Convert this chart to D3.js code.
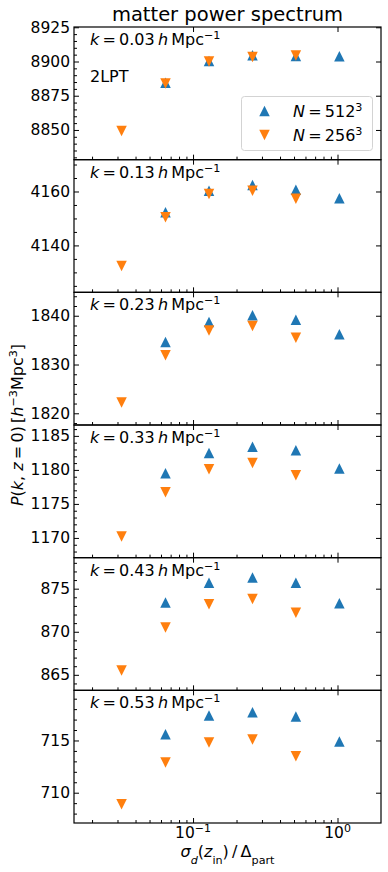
<!DOCTYPE html>
<html>
<head>
<meta charset="utf-8">
<script src="https://cdn.jsdelivr.net/npm/d3@7"></script>
<style>
  body { margin: 0; background: #fff; }
  svg text { font-family: "DejaVu Sans", sans-serif; fill: #000; white-space: pre; }
</style>
</head>
<body>
<svg id="chart"></svg>
<script>
// sigma_d(z_in) / Delta_part for the six runs
const xVals = [0.032, 0.0645, 0.129, 0.258, 0.515, 1.03];
const kLabels = ["0.03", "0.13", "0.23", "0.33", "0.43", "0.53"];

// P(k, z=0) for N = 512^3 (no run at the smallest sigma)
const p512 = [
  [null, 8884.5, 8900.4, 8904.6, 8904.0, 8903.9],
  [null, 4152.3, 4160.3, 4162.4, 4160.6, 4157.5],
  [null, 1834.6, 1838.7, 1840.1, 1839.2, 1836.2],
  [null, 1179.5, 1182.5, 1183.4, 1182.9, 1180.2],
  [null, 873.4, 875.7, 876.3, 875.7, 873.3],
  [null, 715.6, 717.4, 717.7, 717.3, 714.9]
];
// P(k, z=0) for N = 256^3 (no run at the largest sigma)
const p256 = [
  [8849.2, 8884.0, 8900.0, 8903.2, 8904.4, null],
  [4132.4, 4150.4, 4159.1, 4160.3, 4157.3, null],
  [1822.2, 1831.9, 1837.0, 1837.9, 1835.5, null],
  [1170.2, 1176.7, 1180.1, 1181.0, 1179.2, null],
  [865.5, 870.5, 873.2, 873.8, 872.2, null],
  [708.9, 712.9, 714.8, 715.1, 713.5, null]
];

const yDomains = [
  [8828.3, 8925.2],
  [4122.6, 4171.8],
  [1817.6, 1844.8],
  [1167.1, 1186.6],
  [863.2, 878.6],
  [707.1, 719.8]
];
const yTicks = [
  [8850, 8875, 8900, 8925],
  [4140, 4160],
  [1820, 1830, 1840],
  [1170, 1175, 1180, 1185],
  [865, 870, 875],
  [710, 715]
];
const yMinorStep = [5, 5, 2, 1, 1, 1];
const xMajor = [0.1, 1];
const xMinor = [0.02, 0.03, 0.04, 0.05, 0.06, 0.07, 0.08, 0.09, 0.2, 0.3, 0.4, 0.5, 0.6, 0.7, 0.8, 0.9];

const BLUE = "#1f77b4";
const ORANGE = "#ff7f0e";
const width = 388;
const height = 872;
const margin = { top: 27, right: 7, bottom: 49, left: 74 };
const nPanels = 6;
const panelH = (height - margin.top - margin.bottom) / nPanels;
const ms = 10.5;

const svg = d3.select("#chart").attr("width", width).attr("height", height);

const x = d3.scaleLog().domain([0.015, 2]).range([margin.left, width - margin.right]);

function upTri(cx, cy) {
  const h = ms / 2;
  return `M${cx},${cy - h}L${cx + h},${cy + h}L${cx - h},${cy + h}Z`;
}
function downTri(cx, cy) {
  const h = ms / 2;
  return `M${cx - h},${cy - h}L${cx + h},${cy - h}L${cx},${cy + h}Z`;
}

function styleAxis(g, size) {
  g.select(".domain").remove();
  g.selectAll("line").attr("stroke", "#000").attr("stroke-width", 1);
  g.attr("font-family", null).attr("font-size", size);
}

for (let i = 0; i < nPanels; i++) {
  const top = margin.top + i * panelH;
  const g = svg.append("g").attr("transform", `translate(0,${top})`);
  const y = d3.scaleLinear().domain(yDomains[i]).range([panelH, 0]);

  // data
  p512[i].forEach((v, j) => {
    if (v == null) return;
    g.append("path").attr("d", upTri(x(xVals[j]), y(v))).attr("fill", BLUE);
  });
  p256[i].forEach((v, j) => {
    if (v == null) return;
    g.append("path").attr("d", downTri(x(xVals[j]), y(v))).attr("fill", ORANGE);
  });

  // minor y ticks
  const [lo, hi] = yDomains[i];
  const step = yMinorStep[i];
  const minor = d3.range(Math.ceil(lo / step) * step, hi, step).filter((v) => !yTicks[i].includes(v));
  g.append("g")
    .attr("transform", `translate(${margin.left},0)`)
    .call(d3.axisLeft(y).tickValues(minor).tickSize(-3).tickFormat(""))
    .call(styleAxis, 15.5);

  g.append("g")
    .attr("transform", `translate(${margin.left},0)`)
    .call(d3.axisLeft(y).tickValues(yTicks[i]).tickSize(-5).tickPadding(4).tickFormat(d3.format("d")))
    .call(styleAxis, 15.5);

  g.append("g")
    .attr("transform", `translate(${width - margin.right},0)`)
    .call(d3.axisRight(y).tickValues(yTicks[i]).tickSize(-5).tickFormat(""))
    .call(styleAxis, 15.5);

  g.append("g")
    .attr("transform", `translate(0,${panelH})`)
    .call(d3.axisBottom(x).tickValues(xMinor).tickSize(-3).tickFormat(""))
    .call(styleAxis, 15);
  g.append("g")
    .attr("transform", `translate(0,${panelH})`)
    .call(d3.axisBottom(x).tickValues(xMajor).tickSize(-5).tickFormat(""))
    .call(styleAxis, 15);
  g.append("g")
    .call(d3.axisTop(x).tickValues(xMajor).tickSize(-5).tickFormat(""))
    .call(styleAxis, 15);

  // frame
  g.append("rect")
    .attr("x", margin.left)
    .attr("y", 0)
    .attr("width", width - margin.left - margin.right)
    .attr("height", panelH)
    .attr("fill", "none")
    .attr("stroke", "#000")
    .attr("stroke-width", 1.2);

  // k annotation
  const t = g.append("text").attr("x", 90).attr("y", 18).attr("font-size", 16);
  t.append("tspan").attr("font-style", "italic").text("k");
  t.append("tspan").text("\u2009=\u2009" + kLabels[i] + "\u2009");
  t.append("tspan").attr("font-style", "italic").text("h");
  t.append("tspan").text("\u2009Mpc");
  t.append("tspan").attr("baseline-shift", "super").attr("font-size", 11.2).text("\u22121");

  if (i === 0) {
    g.append("text").attr("x", 90).attr("y", 54.5).attr("font-size", 16).text("2LPT");

    // legend
    const lg = g.append("g");
    lg.append("rect")
      .attr("x", 241.5).attr("y", 69.5).attr("width", 131).attr("height", 54).attr("rx", 3)
      .attr("fill", "#fff").attr("fill-opacity", 0.8)
      .attr("stroke", "#d3d3d3").attr("stroke-width", 1);
    lg.append("path").attr("d", upTri(264.5, 84)).attr("fill", BLUE);
    lg.append("path").attr("d", downTri(264.5, 108)).attr("fill", ORANGE);
    [["512", 90], ["256", 114]].forEach(([n, yy]) => {
      const lt = lg.append("text").attr("x", 293).attr("y", yy).attr("font-size", 16);
      lt.append("tspan").attr("font-style", "italic").text("N");
      lt.append("tspan").text("\u2009=\u2009" + n);
      lt.append("tspan").attr("baseline-shift", "super").attr("font-size", 11.2).text("3");
    });
  }

  if (i === nPanels - 1) {
    xMajor.forEach((v) => {
      const lt = g.append("text")
        .attr("x", x(v)).attr("y", panelH + 15).attr("text-anchor", "middle").attr("font-size", 15.5);
      lt.append("tspan").text("10");
      lt.append("tspan").attr("baseline-shift", "super").attr("font-size", 11).text(v === 1 ? "0" : "\u22121");
    });
  }
}

// title
svg.append("text")
  .attr("x", (margin.left + width - margin.right) / 2)
  .attr("y", 21)
  .attr("text-anchor", "middle")
  .attr("font-size", 19.5)
  .text("matter power spectrum");

// x label
const xl = svg.append("text")
  .attr("x", (margin.left + width - margin.right) / 2)
  .attr("y", 857)
  .attr("text-anchor", "middle")
  .attr("font-size", 16);
xl.append("tspan").attr("font-style", "italic").text("σ");
xl.append("tspan").attr("font-style", "italic").attr("baseline-shift", "sub").attr("font-size", 11.2).text("d");
xl.append("tspan").text("(");
xl.append("tspan").attr("font-style", "italic").text("z");
xl.append("tspan").attr("baseline-shift", "sub").attr("font-size", 11.2).text("in");
xl.append("tspan").text(")\u2009/\u2009Δ");
xl.append("tspan").attr("baseline-shift", "sub").attr("font-size", 11.2).text("part");

// y label
const yl = svg.append("text")
  .attr("transform", `translate(22.5,${(margin.top + height - margin.bottom) / 2}) rotate(-90)`)
  .attr("text-anchor", "middle")
  .attr("font-size", 16);
yl.append("tspan").attr("font-style", "italic").text("P");
yl.append("tspan").text("(");
yl.append("tspan").attr("font-style", "italic").text("k");
yl.append("tspan").text(", ");
yl.append("tspan").attr("font-style", "italic").text("z");
yl.append("tspan").text("\u2009=\u20090)\u2009[");
yl.append("tspan").attr("font-style", "italic").text("h");
yl.append("tspan").attr("baseline-shift", "super").attr("font-size", 11.2).text("\u22123");
yl.append("tspan").text("Mpc");
yl.append("tspan").attr("baseline-shift", "super").attr("font-size", 11.2).text("3");
yl.append("tspan").text("]");
</script>
</body>
</html>
